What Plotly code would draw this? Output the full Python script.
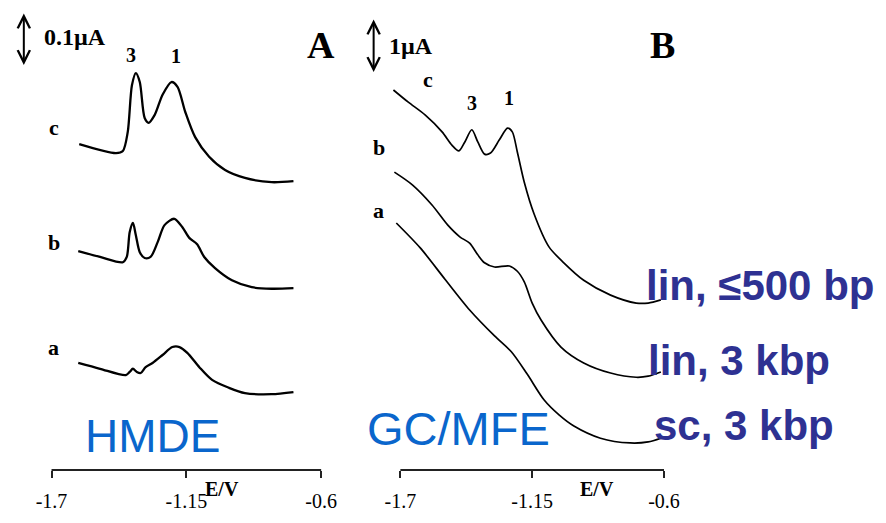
import plotly.graph_objects as go

# ---------------- data (E in V, I in µA, curves stacked as in the figure) -------------
# Panel A (HMDE)
A_c_E = [-1.587, -1.437, -1.409, -1.389, -1.372, -1.356, -1.340, -1.320, -1.304, -1.279,
         -1.247, -1.211, -1.186, -1.154, -1.114, -1.057, -0.992, -0.911, -0.802, -0.713]
A_c_I = [0.615, 0.598, 0.602, 0.638, 0.726, 0.749, 0.732, 0.664, 0.655, 0.670,
         0.708, 0.732, 0.723, 0.675, 0.628, 0.591, 0.566, 0.551, 0.543, 0.545]

A_b_E = [-1.591, -1.502, -1.409, -1.393, -1.381, -1.368, -1.356, -1.340, -1.320, -1.296, -1.267,
         -1.239, -1.199, -1.166, -1.138, -1.106, -1.077, -1.033, -0.964, -0.883, -0.802, -0.713]
A_b_I = [0.413, 0.402, 0.392, 0.402, 0.449, 0.466, 0.443, 0.411, 0.400, 0.402, 0.430,
         0.462, 0.474, 0.458, 0.438, 0.426, 0.402, 0.381, 0.358, 0.345, 0.342, 0.343]

A_a_E = [-1.591, -1.502, -1.397, -1.381, -1.368, -1.352, -1.336, -1.316, -1.288, -1.247,
         -1.207, -1.178, -1.146, -1.097, -1.045, -0.976, -0.911, -0.802, -0.713]
A_a_I = [0.202, 0.191, 0.179, 0.185, 0.191, 0.185, 0.183, 0.194, 0.202, 0.217,
         0.232, 0.232, 0.221, 0.194, 0.170, 0.155, 0.145, 0.143, 0.147]

# Panel B (GC/MFE)
B_c_E = [-1.729, -1.667, -1.597, -1.526, -1.485, -1.456, -1.431, -1.402, -1.377, -1.349, -1.324, -1.287,
         -1.253, -1.233, -1.212, -1.183, -1.142, -1.080, -1.018, -0.935, -0.823, -0.716, -0.666, -0.613]
B_c_I = [7.17, 6.94, 6.70, 6.38, 6.13, 6.02, 6.19, 6.42, 6.19, 5.96, 5.98, 6.23,
         6.45, 6.38, 6.00, 5.43, 4.83, 4.21, 3.91, 3.58, 3.30, 3.15, 3.15, 3.21]

B_b_E = [-1.725, -1.650, -1.568, -1.502, -1.452, -1.411, -1.377, -1.349, -1.307, -1.245,
         -1.212, -1.183, -1.150, -1.113, -1.030, -0.935, -0.823, -0.716, -0.666, -0.613]
B_b_I = [5.62, 5.38, 5.00, 4.62, 4.40, 4.28, 4.06, 3.91, 3.83, 3.85,
         3.75, 3.55, 3.15, 2.83, 2.32, 2.02, 1.83, 1.75, 1.77, 1.85]

B_a_E = [-1.717, -1.617, -1.514, -1.411, -1.307, -1.237, -1.171, -1.100, -1.038, -0.976,
         -0.865, -0.741, -0.666, -0.613]
B_a_I = [4.66, 4.19, 3.60, 3.02, 2.53, 2.23, 1.81, 1.32, 1.04, 0.83,
         0.60, 0.51, 0.53, 0.60]

tick_vals = [-1.7, -1.15, -0.6]
tick_text = ["-1.7", "-1.15", "-0.6"]
curve_labels = ["a", "b", "c"]
peak_labels = ["3", "1"]
sample_labels = ["lin, \u2264500 bp", "lin, 3 kbp", "sc, 3 kbp"]
electrodes = ["HMDE", "GC/MFE"]
scale_labels = ["0.1\u00b5A", "1\u00b5A"]
panel_letters = ["A", "B"]

# ---------------- layout helpers -------------------------------------------------------
W, H = 886, 523
SERIF = "Liberation Serif, Times New Roman, serif"
SANS = "Liberation Sans, Arial, sans-serif"


def px(x, y):
    return x / W, 1 - y / H


fig = go.Figure()
line_a = dict(color="black", width=2.3, shape="spline", smoothing=0.8)
line_b = dict(color="black", width=1.7, shape="spline", smoothing=0.8)
for E, I in [(A_c_E, A_c_I), (A_b_E, A_b_I), (A_a_E, A_a_I)]:
    fig.add_trace(go.Scatter(x=E, y=I, mode="lines", line=line_a, xaxis="x", yaxis="y",
                             hoverinfo="skip"))
for E, I in [(B_c_E, B_c_I), (B_b_E, B_b_I), (B_a_E, B_a_I)]:
    fig.add_trace(go.Scatter(x=E, y=I, mode="lines", line=line_b, xaxis="x2", yaxis="y2",
                             hoverinfo="skip"))

ybot = (H - 470) / H
xa = dict(range=[-1.75, -0.55], showgrid=False, zeroline=False, showline=False,
          ticks="outside", ticklen=7, tickwidth=1.6, tickcolor="#222",
          tickvals=tick_vals, ticktext=tick_text, ticklabelstandoff=6,
          tickfont=dict(family=SERIF, size=20, color="black"))
fig.update_layout(
    width=W, height=H, margin=dict(l=0, r=0, t=0, b=0),
    paper_bgcolor="white", plot_bgcolor="rgba(0,0,0,0)", showlegend=False,
    xaxis=dict(domain=[35.6 / W, 332.4 / W], anchor="y", **xa),
    xaxis2=dict(domain=[387.9 / W, 678.1 / W], anchor="y2", **xa),
    yaxis=dict(domain=[ybot, 1], range=[0, 470 / 530], visible=False, anchor="x"),
    yaxis2=dict(domain=[ybot, 1], range=[0, 470 / 53], visible=False, anchor="x2"),
)

# axis brackets
for xr in ["x", "x2"]:
    fig.add_shape(type="line", xref=xr, yref="paper", x0=-1.7, x1=-0.6, y0=ybot, y1=ybot,
                  line=dict(color="#222", width=1.8))

ann = []


def txt(x, y, t, size, family=SERIF, color="black", bold=True):
    xx, yy = px(x, y)
    ann.append(dict(xref="paper", yref="paper", x=xx, y=yy, text=("<b>%s</b>" % t) if bold else t,
                    showarrow=False, xanchor="center", yanchor="middle",
                    font=dict(family=family, size=size, color=color)))


def darrow(x, y_top, y_bot):
    xx, yy = px(x, y_bot)
    ann.append(dict(xref="paper", yref="paper", x=xx, y=yy, ax=0, ay=-(y_bot - y_top),
                    axref="pixel", ayref="pixel", text="", showarrow=True,
                    arrowside="end+start", arrowhead=5, startarrowhead=5,
                    arrowsize=1.2, startarrowsize=1.2, arrowwidth=2, arrowcolor="black"))


# scale bars
darrow(20, 12, 65)
txt(72, 37, scale_labels[0], 24)
darrow(373, 18, 72)
txt(411, 46, scale_labels[1], 24)
# panel letters
txt(320, 45, panel_letters[0], 38)
txt(665, 45, panel_letters[1], 38)
# peak labels
txt(128, 55, peak_labels[0], 20)
txt(174, 56, peak_labels[1], 20)
txt(472, 103, peak_labels[0], 20)
txt(510, 98, peak_labels[1], 20)
# curve labels
txt(50, 347, curve_labels[0], 22)
txt(50, 242, curve_labels[1], 22)
txt(50, 127, curve_labels[2], 22)
txt(378, 211, curve_labels[0], 22)
txt(378, 148, curve_labels[1], 22)
txt(428, 80, curve_labels[2], 22)
# E/V
txt(220, 489, "E/V", 20)
txt(598, 489, "E/V", 20)
# electrode names
txt(150, 436, electrodes[0], 46, family=SANS, color="#0A66CC", bold=False)
txt(459, 428, electrodes[1], 47, family=SANS, color="#0A66CC", bold=False)
# sample labels
txt(763, 285, sample_labels[0], 42, family=SANS, color="#2E3192")
txt(742, 360, sample_labels[1], 42, family=SANS, color="#2E3192")
txt(747, 425, sample_labels[2], 42, family=SANS, color="#2E3192")

fig.update_layout(annotations=ann)
fig.write_html("out.html", config={"displayModeBar": False},
               post_script="document.body.style.margin='0';")
